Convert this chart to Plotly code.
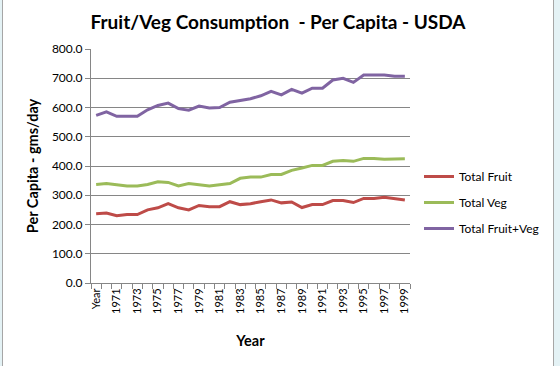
import plotly.graph_objects as go

categories = ["Year"] + [str(y) for y in range(1970, 2000)]
total_fruit = [237, 239, 230, 234, 234, 250, 257, 271, 257, 250, 265, 261, 261, 278, 268,
               271, 278, 284, 274, 277, 258, 268, 268, 282, 282, 275, 289, 289, 293, 289, 284]
total_veg = [337, 340, 336, 332, 332, 337, 346, 344, 332, 340, 336, 332, 336, 340, 358,
             362, 362, 371, 371, 385, 393, 402, 402, 416, 419, 416, 426, 426, 423, 425, 425]
total_fv = [573, 585, 570, 570, 570, 592, 607, 615, 596, 591, 605, 598, 600, 618, 625,
            630, 640, 655, 643, 662, 649, 666, 666, 694, 700, 686, 711, 711, 711, 707, 707]
series_names = ["Total Fruit", "Total Veg", "Total Fruit+Veg"]
series_colors = ["#BE4B48", "#9BBB59", "#8064A2"]
y_ticks = [0, 100, 200, 300, 400, 500, 600, 700, 800]

W, H = 560, 366
L, R, T, B = 91, 150, 49, 83
pw, ph = W - L - R, H - T - B

def px_x(p):
    return (p - L) / pw

def px_y(p):
    return (H - B - p) / ph

idx = list(range(len(categories)))
font = "Lato, 'Open Sans', sans-serif"

fig = go.Figure()
for name, vals, col in zip(series_names, [total_fruit, total_veg, total_fv], series_colors):
    fig.add_trace(go.Scatter(x=idx, y=vals, mode="lines", name=name,
                             legendgroup=name,
                             line=dict(color=col, width=3)))

# chart frame
fig.add_shape(type="rect", xref="paper", yref="paper",
              x0=px_x(2.5), x1=px_x(553.5), y0=px_y(368), y1=px_y(-2),
              fillcolor="white", line=dict(color="#A6A6A6", width=1), layer="below")

fig.update_layout(
    width=W, height=H,
    margin=dict(l=L, r=R, t=T, b=B),
    paper_bgcolor="#E4F2F5",
    plot_bgcolor="white",
    font=dict(family=font, size=11, color="black"),
    title=dict(text="<b>Fruit/Veg Consumption  - Per Capita - USDA</b>",
               xref="container", x=278 / W, xanchor="center",
               yref="container", y=1 - 22 / H, yanchor="middle",
               font=dict(size=19, family=font)),
    legend=dict(x=px_x(419), xanchor="left", y=px_y(162), yanchor="top",
                font=dict(size=12), tracegroupgap=7, itemwidth=30,
                bgcolor="rgba(0,0,0,0)"),
    xaxis=dict(range=[-0.5, len(categories) - 0.5],
               tickmode="array", tickvals=idx[::2], ticktext=categories[::2],
               tickangle=-90, ticks="", showgrid=False, zeroline=False,
               showline=True, linecolor="#868686", linewidth=1,
               minor=dict(tickmode="array",
                          tickvals=[i - 0.5 for i in range(len(categories) + 1)],
                          ticks="outside", ticklen=5, tickcolor="#868686", showgrid=False),
               tickfont=dict(size=11),
               title=dict(text="<b>Year</b>", font=dict(size=14.5), standoff=22)),
    yaxis=dict(range=[0, 800], tickmode="array", tickvals=y_ticks,
               tickformat=".1f", ticks="outside", ticklen=5, tickcolor="#868686",
               showgrid=True, gridcolor="#868686", gridwidth=1, zeroline=False,
               showline=True, linecolor="#868686", linewidth=1,
               tickfont=dict(size=12),
               title=dict(text="<b>Per Capita - gms/day</b>", font=dict(size=14.5), standoff=9)),
)

fig.write_html("out.html", config={"displayModeBar": False},
               post_script="document.body.style.margin='0';document.body.style.overflow='hidden';")
